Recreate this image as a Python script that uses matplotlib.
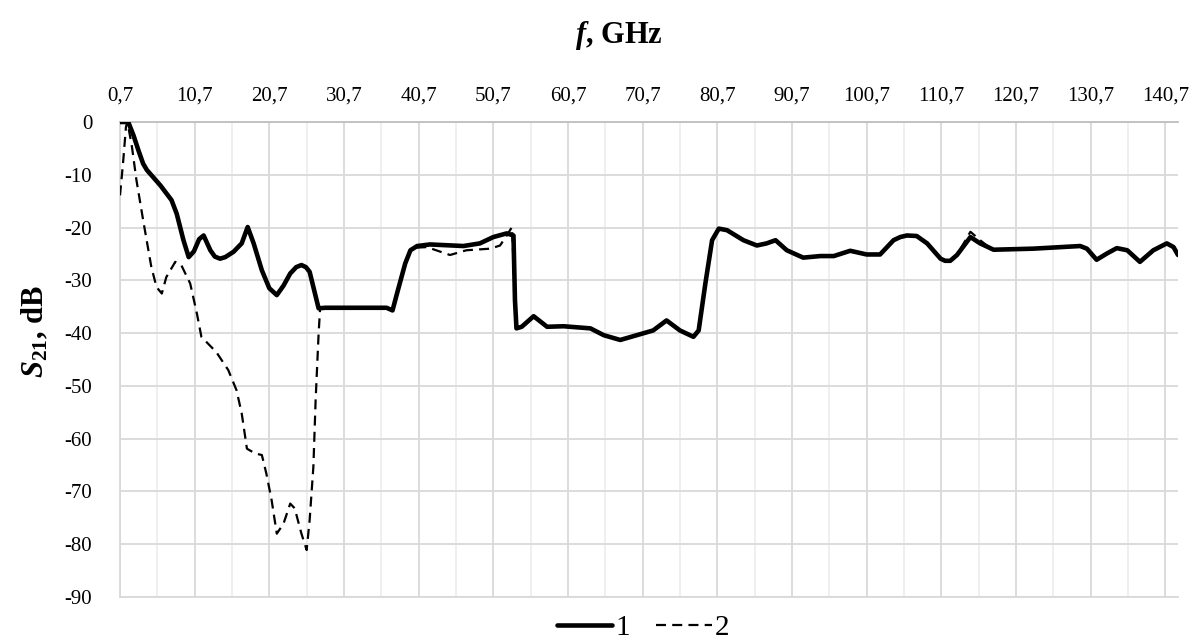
import numpy as np
import matplotlib
matplotlib.use("Agg")
import matplotlib.pyplot as plt

plt.rcParams['font.family'] = ['Liberation Serif', 'DejaVu Serif']
plt.rcParams['axes.unicode_minus'] = False
plt.rcParams['mathtext.fontset'] = 'custom'
plt.rcParams['mathtext.rm'] = 'Liberation Serif'
plt.rcParams['mathtext.it'] = 'Liberation Serif:italic'
plt.rcParams['mathtext.bf'] = 'Liberation Serif:bold'
plt.rcParams['mathtext.bfit'] = 'Liberation Serif:bold:italic'

# curva 1 (linea continua)
f1 = [0.7, 1.8, 2.5, 3.2, 3.8, 4.3, 6.1, 7.6, 8.3, 9.2, 9.9, 10.6, 11.3, 11.9, 12.8, 13.4,
      14.1, 14.8, 15.9, 17.0, 17.8, 18.6, 19.7, 20.7, 21.7, 22.6, 23.5, 24.3, 25.0, 25.6, 26.1, 27.3,
      28.2, 36.4, 37.2, 37.8, 38.9, 39.6, 40.5, 42.2, 46.7, 48.9, 50.7, 52.5, 53.4,
      53.6, 53.8, 54.5, 56.1, 57.9, 60.1, 63.7, 65.5, 67.7, 69.9, 72.1, 73.9, 75.7,
      77.5, 78.2, 79.1, 80.0, 80.9, 82.0, 84.2, 86.0, 87.3, 88.5, 90.0, 92.2, 94.5,
      96.3, 98.5, 100.7, 102.5, 104.3, 105.2, 106.1, 107.4, 108.8, 110.6, 111.2, 111.9, 112.8,
      114.6, 115.9, 117.7, 123.0, 129.3, 130.2, 131.5, 132.9, 134.2, 135.6, 137.3,
      139.1, 140.9, 141.8, 142.4]
s1 = [0, 0, -2.5, -5.5, -7.9, -9.1, -12, -14.8, -17.4, -22.4, -25.6, -24.5, -22.2, -21.5, -24.3, -25.5,
      -25.9, -25.6, -24.6, -23, -19.9, -23, -28.1, -31.5, -32.8, -31.0, -28.7, -27.5, -27.1, -27.5, -28.4, -35.3,
      -35.2, -35.2, -35.7, -32.5, -26.8, -24.3, -23.5, -23.2, -23.5, -23.0, -21.8, -21.1, -21.5,
      -33.8, -39.1, -38.8, -36.8, -38.8, -38.7, -39.1, -40.4, -41.3, -40.4, -39.5, -37.6, -39.5,
      -40.7, -39.5, -30.6, -22.4, -20.2, -20.5, -22.4, -23.4, -23.0, -22.4, -24.3, -25.7, -25.4,
      -25.4, -24.4, -25.1, -25.1, -22.4, -21.8, -21.5, -21.6, -23.0, -25.9, -26.3, -26.3, -25.2,
      -21.8, -23.0, -24.2, -24.0, -23.5, -24.0, -26.1, -24.9, -23.9, -24.3, -26.5,
      -24.3, -23.0, -23.7, -25.2]

# curva 2 (linea discontinua)
f2 = [0.7, 1.1, 1.5, 1.7, 2.3, 2.9, 3.8, 4.9, 5.6, 6.3, 6.9, 8.1, 8.9, 10.1, 11.0, 11.6,
      13.6, 15.2, 16.3, 17.0, 17.7, 18.8, 19.7, 20.3, 21.0, 21.7, 22.6, 23.5, 24.1, 25.0,
      25.7, 26.1, 26.6, 26.9, 27.3, 27.5, 28.2, 36.4, 37.2, 37.8, 38.9, 39.6, 40.5, 41.8,
      44.9, 47.1, 50.3, 51.6, 52.5, 53.2, 53.5, 53.8, 54.5, 56.1, 57.9, 60.1, 63.7, 65.5,
      67.7, 69.9, 72.1, 73.9, 75.7, 77.5, 78.2, 79.1, 80.0, 80.9, 82.0, 84.2, 86.0, 87.3,
      88.5, 90.0, 92.2, 94.5, 96.3, 98.5, 100.7, 102.5, 104.3, 106.1, 107.4, 108.8, 110.6,
      111.9, 112.8, 114.6, 115.9, 116.8, 117.7, 123.0, 129.3, 130.2, 131.5, 132.9, 134.2,
      135.6, 137.3, 139.1, 140.9, 141.8, 142.4]
s2 = [-13.9, -7.9, -0.9, 0, -4.7, -11, -18.6, -27.5, -31.3, -32.5, -29.4, -26.5, -27.1, -30.6, -36.3, -40.7,
      -43.6, -47.0, -50.8, -55.2, -61.9, -62.8, -63.1, -66.6, -71.6, -78.0, -76.1, -72.3, -73.2, -78.0,
      -81.1, -75.4, -65.3, -52.7, -40.1, -35.3, -35.2, -35.2, -35.7, -32.5, -26.8, -24.3, -23.8, -23.7,
      -25.2, -24.3, -24.0, -23.4, -21.5, -19.9, -30.0, -39.1, -38.8, -36.8, -38.8, -38.7, -39.1, -40.4,
      -41.3, -40.4, -39.5, -37.6, -39.5, -40.7, -39.5, -30.6, -22.4, -20.2, -20.5, -22.4, -23.4, -23.0,
      -22.4, -24.3, -25.7, -25.4, -25.4, -24.4, -25.1, -25.1, -22.4, -21.5, -21.6, -23.0, -25.9,
      -26.3, -25.2, -20.8, -22.4, -23.4, -24.2, -24.0, -23.5, -24.0, -26.1, -24.9, -23.9,
      -24.3, -26.5, -24.3, -23.0, -23.7, -25.2]

xticks = np.arange(0.7, 141, 10)
xlabels = ['0,7', '10,7', '20,7', '30,7', '40,7', '50,7', '60,7', '70,7', '80,7',
           '90,7', '100,7', '110,7', '120,7', '130,7', '140,7']
yticks = np.arange(-90, 1, 10)

fig = plt.figure(figsize=(11.93, 6.43), dpi=100)
ax = fig.add_axes([120/1193, 1-597/643, 1058/1193, 475/643])

ax.plot(f1, s1, color='black', lw=3.3, solid_joinstyle='round', solid_capstyle='round', label='1', zorder=3)
ax.plot(f2, s2, color='black', lw=1.6, dashes=(4.5, 2.8), label='2', zorder=4)

ax.set_xlim(0.7, 142.4)
ax.set_ylim(-90, 0)
ax.xaxis.tick_top()
ax.set_xticks(xticks)
ax.set_xticklabels(xlabels)
ax.set_xticks(np.arange(5.7, 143, 10), minor=True)
ax.set_yticks(yticks)
ax.tick_params(axis='x', which='both', length=0, pad=12, labelsize=15)
ax.tick_params(axis='y', length=0, pad=20, labelsize=15)

ax.grid(True, which='major', color='#d9d9d9', lw=1.3)
ax.grid(True, which='minor', axis='x', color='#eeeeee', lw=1.3)
ax.set_axisbelow(True)
ax.spines['right'].set_visible(False)
ax.spines['top'].set_color('#bfbfbf')
ax.spines['left'].set_color('#d9d9d9')
ax.spines['bottom'].set_color('#d9d9d9')
for s in ['top', 'left', 'bottom']:
    ax.spines[s].set_linewidth(1.3)

fig.text(619/1193, 1-36/643, r'$\mathbfit{f}$, GHz', fontweight='bold', fontsize=22,
         ha='center', va='center')
fig.text(35/1193, 1-331/643, r'$\mathbfit{S}_{\mathbf{21}}$, dB', fontweight='bold', fontsize=22,
         ha='center', va='center', rotation=90)

leg = fig.legend(loc='center', bbox_to_anchor=(643/1193, 1-628/643), ncol=2, frameon=False,
                 fontsize=21, handlelength=1.9, handletextpad=0.1, columnspacing=0.9)

fig.savefig('out.png', dpi=100)
